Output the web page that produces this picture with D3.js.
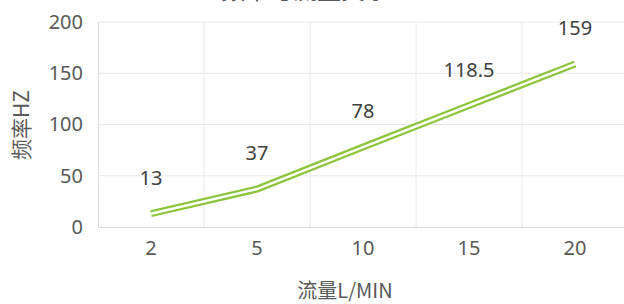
<!DOCTYPE html>
<html lang="zh">
<head>
  <meta charset="utf-8">
  <title>流量与频率</title>
  <script src="https://cdnjs.cloudflare.com/ajax/libs/d3/7.8.5/d3.min.js"></script>
  <style>
  body { margin: 0; background: #fff; }
  svg { display: block; }
  .tick text { font-family: 'Noto Sans', 'Open Sans', sans-serif; font-size: 20px; fill: #595959; }
  .lbl { font-family: 'Noto Sans', 'Open Sans', sans-serif; font-size: 20px; fill: #404040; }
  .ttl { font-family: 'Noto Sans CJK SC', sans-serif; font-size: 20px; fill: #595959; }
  </style>
</head>
<body>
<svg id="chart"></svg>
<script>
var flows = ["2", "5", "10", "15", "20"];
var freqs = [13, 37, 78, 118.5, 159];
var labels = ["13", "37", "78", "118.5", "159"];
var yTicks = [0, 50, 100, 150, 200];

var w = 624, h = 304;
var m = { left: 98, right: 628, top: 22, bottom: 227 };

var svg = d3.select("#chart").attr("width", w).attr("height", h);

var x = d3.scaleBand().domain(flows).range([m.left, m.right]);
var y = d3.scaleLinear().domain([0, 200]).range([m.bottom, m.top]);

// title, cut off at the top edge like in the source picture
svg.append("text")
  .attr("class", "ttl")
  .attr("x", 305).attr("y", -1)
  .attr("text-anchor", "middle")
  .style("font-size", "24px")
  .text("频率与流量关系");

// gridlines
svg.append("g").selectAll("line")
  .data(yTicks.slice(1))
  .enter().append("line")
  .attr("x1", m.left).attr("x2", m.right)
  .attr("y1", function(d) { return y(d); })
  .attr("y2", function(d) { return y(d); })
  .style("stroke", "#e8e8e8");

svg.append("g").selectAll("line")
  .data(flows.slice(1))
  .enter().append("line")
  .attr("x1", function(d) { return x(d); })
  .attr("x2", function(d) { return x(d); })
  .attr("y1", m.top).attr("y2", m.bottom)
  .style("stroke", "#e8e8e8");

// axes
var yAxis = svg.append("g")
  .attr("transform", "translate(" + m.left + ",0)")
  .call(d3.axisLeft(y).tickValues(yTicks).tickSize(0).tickPadding(15));
yAxis.select(".domain").style("stroke", "#d9d9d9");

var xAxis = svg.append("g")
  .attr("transform", "translate(0," + m.bottom + ")")
  .call(d3.axisBottom(x).tickSize(0).tickPadding(14));
xAxis.select(".domain").style("stroke", "#d9d9d9");

// double line
var line = d3.line()
  .x(function(d, i) { return x(flows[i]) + x.bandwidth() / 2; })
  .y(function(d) { return y(d); });

svg.append("path").datum(freqs)
  .attr("d", line)
  .style("fill", "none")
  .style("stroke", "#8cc43c")
  .style("stroke-width", 7);
svg.append("path").datum(freqs)
  .attr("d", line)
  .style("fill", "none")
  .style("stroke", "#fff")
  .style("stroke-width", 2.5);

// data labels
svg.append("g").selectAll("text")
  .data(freqs)
  .enter().append("text")
  .attr("class", "lbl")
  .attr("x", function(d, i) { return x(flows[i]) + x.bandwidth() / 2; })
  .attr("y", function(d) { return y(d) - 36; })
  .attr("dy", "0.35em")
  .attr("text-anchor", "middle")
  .text(function(d, i) { return labels[i]; });

// axis titles
svg.append("text")
  .attr("class", "ttl")
  .attr("x", 345).attr("y", 298)
  .attr("text-anchor", "middle")
  .text("流量L/MIN");

svg.append("text")
  .attr("class", "ttl")
  .attr("transform", "translate(29,125) rotate(-90)")
  .attr("text-anchor", "middle")
  .style("font-size", "21px")
  .text("频率HZ");
</script>
</body>
</html>
